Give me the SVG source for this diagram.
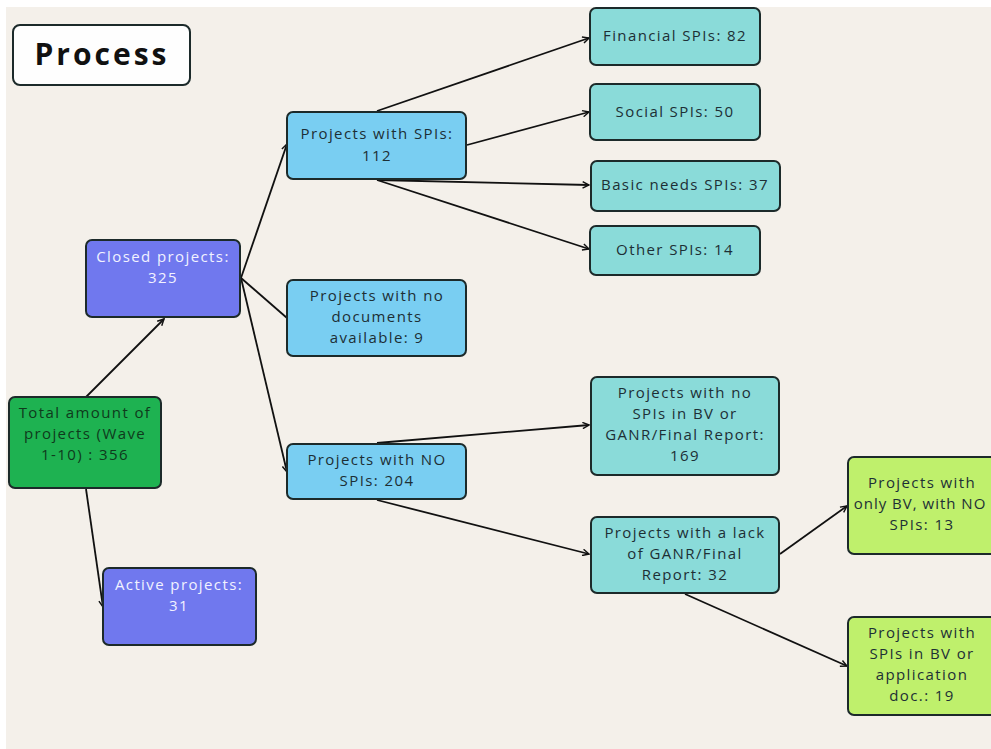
<svg xmlns="http://www.w3.org/2000/svg" width="991" height="749" viewBox="0 0 991 749">
<defs>
<marker id="ah" viewBox="0 0 10 10" refX="9" refY="5" markerWidth="8" markerHeight="8" orient="auto" markerUnits="userSpaceOnUse">
<path d="M1,1 L9,5 L1,9" fill="none" stroke="#111" stroke-width="1.8"/>
</marker>
<style>
.n{stroke:#1c2a2a;stroke-width:2}
.t{font-family:"Open Sans","Noto Sans",sans-serif;font-size:15px;letter-spacing:1.4px;text-anchor:middle;fill:#1d2f35}
.w{fill:#f2f2ff}
.g{fill:#0f3a1c}
.c line{stroke:#111;stroke-width:1.8}
.a{marker-end:url(#ah)}
</style>
</defs>
<rect x="0" y="0" width="991" height="749" fill="#ffffff"/>
<rect x="6" y="7" width="985" height="742" fill="#f4f0ea"/>

<g class="c" id="connectors">
<line class="a" x1="86" y1="397" x2="164" y2="319"/>
<line class="a" x1="86" y1="489" x2="103" y2="607"/>
<line class="a" x1="241" y1="278" x2="287" y2="144"/>
<line x1="241" y1="278" x2="287" y2="318"/>
<line class="a" x1="241" y1="278" x2="287" y2="472"/>
<line class="a" x1="377" y1="111" x2="589" y2="38"/>
<line class="a" x1="467" y1="145" x2="589" y2="112"/>
<line class="a" x1="377" y1="180" x2="589" y2="185"/>
<line class="a" x1="377" y1="180" x2="589" y2="249"/>
<line class="a" x1="377" y1="443" x2="589" y2="425"/>
<line class="a" x1="377" y1="500" x2="589" y2="554"/>
<line class="a" x1="780" y1="554" x2="847" y2="506"/>
<line class="a" x1="685" y1="594" x2="847" y2="666"/>
</g>

<g id="title">
<rect class="n" x="13" y="25" width="177" height="60" rx="7" fill="#fefefe"/>
<text x="102" y="65" font-family="'Open Sans','Noto Sans',sans-serif" font-size="30" font-weight="bold" letter-spacing="3" text-anchor="middle" fill="#111">Process</text>
</g>

<g id="total">
<rect class="n" x="9" y="397" width="152" height="91" rx="6" fill="#1eb251"/>
<text class="t g" x="85" y="418">Total amount of</text>
<text class="t g" x="85" y="439">projects (Wave</text>
<text class="t g" x="85" y="460">1-10) : 356</text>
</g>

<g id="closed">
<rect class="n" x="86" y="240" width="154" height="77" rx="6" fill="#7078ee"/>
<text class="t w" x="163" y="262">Closed projects:</text>
<text class="t w" x="163" y="283">325</text>
</g>

<g id="active">
<rect class="n" x="103" y="568" width="153" height="77" rx="6" fill="#7078ee"/>
<text class="t w" x="179" y="590">Active projects:</text>
<text class="t w" x="179" y="611">31</text>
</g>

<g id="withspis">
<rect class="n" x="287" y="112" width="179" height="67" rx="6" fill="#79cef2"/>
<text class="t" x="377" y="139">Projects with SPIs:</text>
<text class="t" x="377" y="161">112</text>
</g>

<g id="nodocs">
<rect class="n" x="287" y="280" width="179" height="76" rx="6" fill="#79cef2"/>
<text class="t" x="377" y="301">Projects with no</text>
<text class="t" x="377" y="322">documents</text>
<text class="t" x="377" y="343">available: 9</text>
</g>

<g id="nospis">
<rect class="n" x="287" y="444" width="179" height="55" rx="6" fill="#79cef2"/>
<text class="t" x="377" y="465">Projects with NO</text>
<text class="t" x="377" y="486">SPIs: 204</text>
</g>

<g id="financial">
<rect class="n" x="590" y="8" width="170" height="57" rx="6" fill="#8adbd9"/>
<text class="t" x="675" y="41">Financial SPIs: 82</text>
</g>

<g id="social">
<rect class="n" x="590" y="84" width="170" height="56" rx="6" fill="#8adbd9"/>
<text class="t" x="675" y="117">Social SPIs: 50</text>
</g>

<g id="basic">
<rect class="n" x="591" y="161" width="189" height="50" rx="6" fill="#8adbd9"/>
<text class="t" x="685" y="190">Basic needs SPIs: 37</text>
</g>

<g id="other">
<rect class="n" x="590" y="226" width="170" height="49" rx="6" fill="#8adbd9"/>
<text class="t" x="675" y="255">Other SPIs: 14</text>
</g>

<g id="nospisbv">
<rect class="n" x="591" y="377" width="188" height="98" rx="6" fill="#8adbd9"/>
<text class="t" x="685" y="398">Projects with no</text>
<text class="t" x="685" y="419">SPIs in BV or</text>
<text class="t" x="685" y="440">GANR/Final Report:</text>
<text class="t" x="685" y="461">169</text>
</g>

<g id="lack">
<rect class="n" x="591" y="517" width="188" height="76" rx="6" fill="#8adbd9"/>
<text class="t" x="685" y="538">Projects with a lack</text>
<text class="t" x="685" y="559">of GANR/Final</text>
<text class="t" x="685" y="580">Report: 32</text>
</g>

<g id="onlybv">
<rect class="n" x="848" y="457" width="160" height="97" rx="6" fill="#bff06c"/>
<text class="t" x="922" y="488">Projects with</text>
<text class="t" x="920" y="509" style="letter-spacing:1px">only BV, with NO</text>
<text class="t" x="922" y="530">SPIs: 13</text>
</g>

<g id="spisbv">
<rect class="n" x="848" y="617" width="160" height="98" rx="6" fill="#bff06c"/>
<text class="t" x="922" y="638">Projects with</text>
<text class="t" x="922" y="659">SPIs in BV or</text>
<text class="t" x="922" y="680">application</text>
<text class="t" x="922" y="701">doc.: 19</text>
</g>
</svg>
